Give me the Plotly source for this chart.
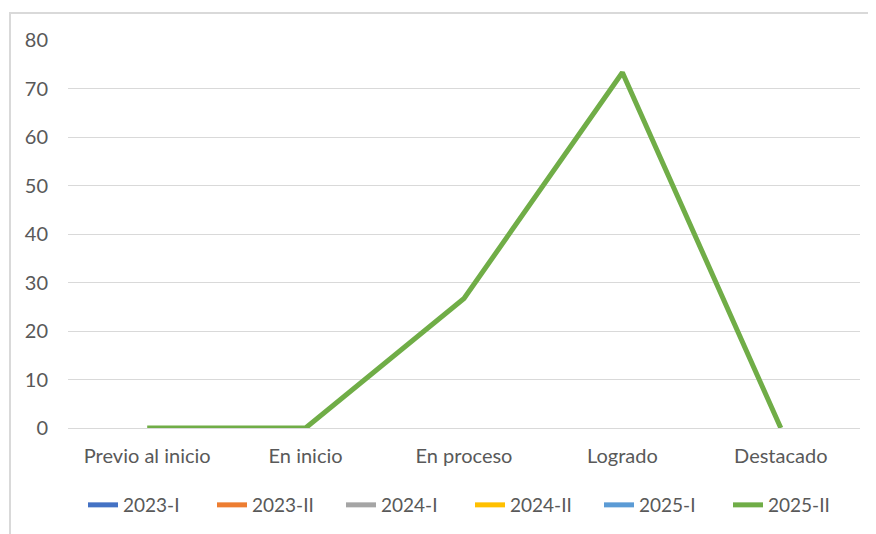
import plotly.graph_objects as go

categories = ["Previo al inicio", "En inicio", "En proceso", "Logrado", "Destacado"]
series_names = ["2023-I", "2023-II", "2024-I", "2024-II", "2025-I", "2025-II"]
v_2023_I = [None, None, None, None, None]
v_2023_II = [None, None, None, None, None]
v_2024_I = [None, None, None, None, None]
v_2024_II = [None, None, None, None, None]
v_2025_I = [None, None, None, None, None]
v_2025_II = [0, 0, 26.7, 73.3, 0]
colors = ["#4472C4", "#ED7D31", "#A5A5A5", "#FFC000", "#5B9BD5", "#70AD47"]

values = [v_2023_I, v_2023_II, v_2024_I, v_2024_II, v_2025_I, v_2025_II]
font_family = "Lato, 'Open Sans', sans-serif"
fs = 20

fig = go.Figure()
for name, vals, col in zip(series_names, values, colors):
    fig.add_trace(go.Scatter(
        x=categories, y=vals, name=name, mode="lines",
        line=dict(color=col, width=5),
        showlegend=True,
    ))

# page has an 8px body margin; plot area in figure coords: x 60..852, y 32..420
pl, pw = 60, 792
pt, ph = 32, 388
pb = pt + ph
fig.add_shape(type="rect", xref="paper", yref="paper",
              x0=(2 - pl) / pw, x1=(900 - pl) / pw,
              y0=(pb - 560) / ph, y1=(pb - 5) / ph,
              line=dict(color="#D9D9D9", width=2), layer="below")

fig.update_layout(
    width=876, height=534,
    margin=dict(l=pl, r=876 - pl - pw, t=pt, b=534 - pb),
    paper_bgcolor="white", plot_bgcolor="white",
    font=dict(family=font_family, size=fs, color="#595959"),
    xaxis=dict(range=[-0.5, 4.5], showgrid=False, showline=False,
               ticks="outside", ticklen=10, tickcolor="rgba(0,0,0,0)",
               tickfont=dict(size=fs, color="#595959")),
    yaxis=dict(range=[0, 80], dtick=10, showgrid=True, gridcolor="#D9D9D9",
               gridwidth=1, zeroline=True, zerolinecolor="#D9D9D9", zerolinewidth=1,
               showline=False, ticks="outside", ticklen=15, tickcolor="rgba(0,0,0,0)",
               tickfont=dict(size=fs, color="#595959")),
    legend=dict(orientation="h", x=(75 - pl) / pw, xanchor="left", y=(pb - 497) / ph,
                yanchor="middle", font=dict(size=19, color="#595959"),
                itemwidth=30, entrywidth=84, tracegroupgap=0, traceorder="normal"),
)
fig.update_yaxes(automargin=False)
fig.update_xaxes(automargin=False)

fig.write_html("out.html")
